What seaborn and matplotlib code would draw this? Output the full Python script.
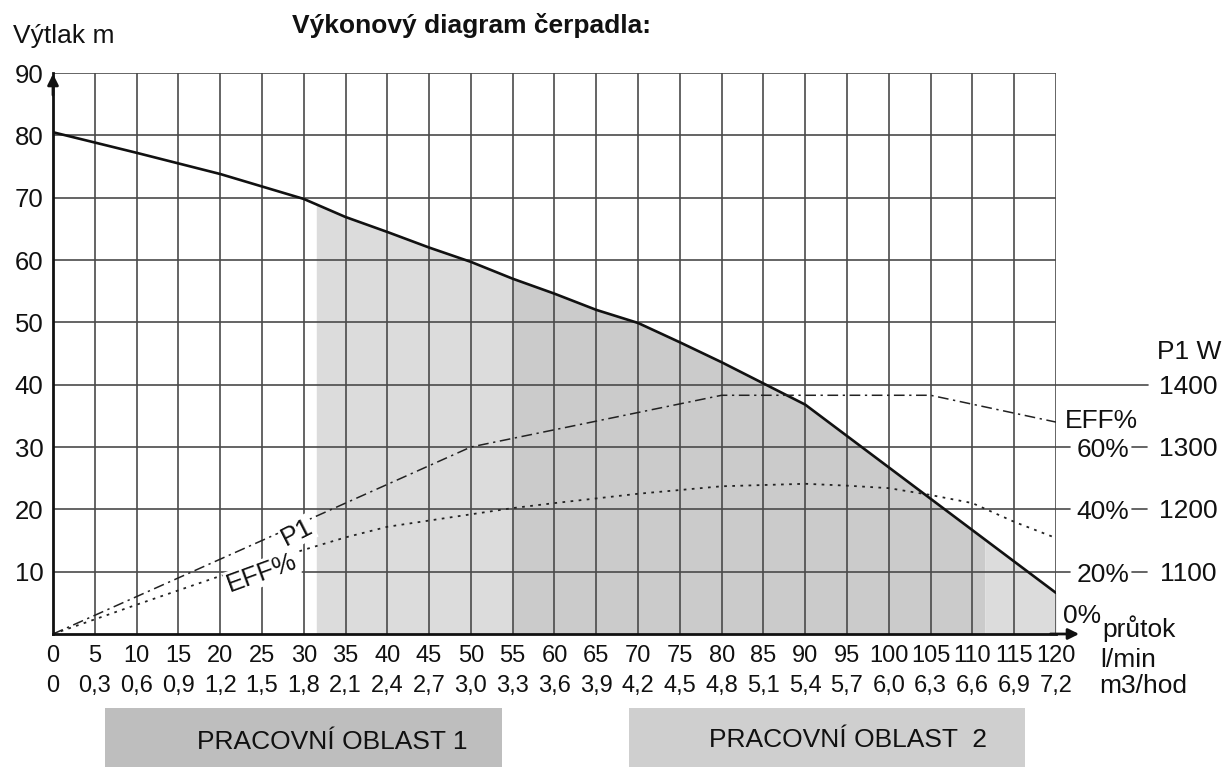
import numpy as np
import pandas as pd
import matplotlib
matplotlib.use("Agg")
import matplotlib.pyplot as plt
from matplotlib.patches import Rectangle
import seaborn as sns

sns.set_theme(style="white")
plt.rcParams["font.family"] = ["Liberation Sans", "DejaVu Sans"]

# head curve, flow l/min -> head m
head_q = [0, 10, 20, 25, 30, 35, 40, 45, 50, 55, 60, 65, 70, 75, 80, 85, 90, 120]
head_h = [80.5, 77.2, 73.8, 71.8, 69.8, 66.9, 64.5, 62.0, 59.7, 57.0, 54.6, 52.0,
          49.9, 46.8, 43.6, 40.2, 36.8, 6.6]

# P1 input power, drawn on the head scale (10 m = 100 W, 40 m = 1400 W)
p1_q = [0, 50, 80, 105, 120]
p1_h = [0, 30.0, 38.3, 38.3, 34.0]

# efficiency, drawn on the head scale (10 m = 20 %)
eff_q = [0, 10, 20, 30, 35, 40, 50, 55, 60, 70, 80, 90, 95, 100, 105, 110, 115, 120]
eff_h = [0, 4.7, 9.3, 13.5, 15.5, 17.2, 19.2, 20.2, 21.0, 22.5, 23.7, 24.1, 23.8,
         23.4, 22.3, 21.0, 18.0, 15.4]

flow_ticks = list(range(0, 121, 5))
m3_labels = ["0", "0,3", "0,6", "0,9", "1,2", "1,5", "1,8", "2,1", "2,4", "2,7",
             "3,0", "3,3", "3,6", "3,9", "4,2", "4,5", "4,8", "5,1", "5,4", "5,7",
             "6,0", "6,3", "6,6", "6,9", "7,2"]
head_ticks = [10, 20, 30, 40, 50, 60, 70, 80, 90]

eff_levels = [10, 20, 30]
eff_labels = ["20%", "40%", "60%"]
p1_levels = [10, 20, 30, 40]
p1_labels = ["1100", "1200", "1300", "1400"]

# shaded working zones under the head curve
zone_edges = [31.5, 55, 111.5, 120]
zone_colors = ["#dcdcdc", "#cbcbcb", "#dcdcdc"]

GRID = "#4a4a4a"
INK = "#111111"
FS = 19

df = pd.concat([
    pd.DataFrame({"q": head_q, "v": head_h, "curve": "H"}),
    pd.DataFrame({"q": p1_q, "v": p1_h, "curve": "P1"}),
    pd.DataFrame({"q": eff_q, "v": eff_h, "curve": "EFF"}),
])

fig = plt.figure(figsize=(12.24, 7.67), dpi=100)
ax = fig.add_axes([0.0433, 0.1734, 0.8194, 0.7314])

# zones
for i in range(len(zone_colors)):
    xs = np.linspace(zone_edges[i], zone_edges[i + 1], 60)
    ax.fill_between(xs, 0, np.interp(xs, head_q, head_h), color=zone_colors[i],
                    lw=0, zorder=1)

# grid
for q in flow_ticks[1:]:
    ax.axvline(q, color=GRID, lw=1.2, zorder=2)
for h in head_ticks:
    ax.axhline(h, color=GRID, lw=1.2, zorder=2)

sns.lineplot(data=df[df.curve == "H"], x="q", y="v", color=INK, lw=1.9,
             ax=ax, zorder=4, sort=False)
sns.lineplot(data=df[df.curve == "P1"], x="q", y="v", color="#222222", lw=1.1,
             ax=ax, zorder=4, sort=False, linestyle=(0, (7, 3, 1.5, 3)))
sns.lineplot(data=df[df.curve == "EFF"], x="q", y="v", color="#222222", lw=1.3,
             ax=ax, zorder=4, sort=False, linestyle=(0, (1.5, 3)))

ax.set_xlim(0, 120)
ax.set_ylim(0, 90)
for s in ["top", "right"]:
    ax.spines[s].set_visible(False)
for s in ["left", "bottom"]:
    ax.spines[s].set_color(INK)
    ax.spines[s].set_linewidth(2)
    ax.spines[s].set_zorder(5)

# axis arrows
ax.annotate("", xy=(0, 90.3), xytext=(0, 86), annotation_clip=False,
            arrowprops=dict(arrowstyle="-|>", color=INK, lw=2, mutation_scale=16))
ax.annotate("", xy=(123.1, 0), xytext=(119, 0), annotation_clip=False,
            arrowprops=dict(arrowstyle="-|>", color=INK, lw=2, mutation_scale=16))

ax.set_xticks(flow_ticks)
ax.set_xticklabels([str(q) for q in flow_ticks], fontsize=17)
ax.set_yticks(head_ticks)
ax.set_yticklabels([str(h) for h in head_ticks], fontsize=18.5)
ax.tick_params(axis="x", length=0, pad=8, colors=INK)
ax.tick_params(axis="y", length=0, pad=7, colors=INK)
ax.set_xlabel("")
ax.set_ylabel("")

xtr = ax.get_xaxis_transform()
for q, lab in zip(flow_ticks, m3_labels):
    ax.text(q, -0.0927, lab, transform=xtr, ha="center", va="center",
            fontsize=17, color=INK)

# curve labels
ax.text(29.2, 16.3, "P1", rotation=27, fontsize=FS, ha="center", va="center",
        color=INK, zorder=6, bbox=dict(facecolor="white", edgecolor="none", pad=1))
ax.text(25.0, 9.8, "EFF%", rotation=20, fontsize=FS, ha="center", va="center",
        color=INK, zorder=6, bbox=dict(facecolor="white", edgecolor="none", pad=1))

# right scales
ax.plot([120, 131.0], [40, 40], color=GRID, lw=1.2, clip_on=False)
for h, lab in zip(eff_levels, eff_labels):
    ax.plot([120, 121.7], [h, h], color=GRID, lw=1.2, clip_on=False)
    ax.plot([129.1, 130.9], [h, h], color=GRID, lw=1.2, clip_on=False)
    ax.text(125.6, h - 0.5, lab, ha="center", va="center", fontsize=FS, color=INK)
for h, lab in zip(p1_levels, p1_labels):
    ax.text(135.8, h - 0.3, lab, ha="center", va="center", fontsize=FS, color=INK)
ax.text(135.9, 45.2, "P1 W", ha="center", va="center", fontsize=FS, color=INK)
ax.text(125.5, 34.2, "EFF%", ha="center", va="center", fontsize=FS, color=INK)
ax.text(120.8, 2.9, "0%", ha="left", va="center", fontsize=FS, color=INK)
ax.text(125.5, -0.5, "průtok", ha="left", va="baseline", fontsize=FS, color=INK)
ax.text(125.3, -0.047, "l/min", ha="left", va="center", transform=xtr,
        fontsize=FS, color=INK)
ax.text(125.2, -0.0927, "m3/hod", ha="left", va="center", transform=xtr,
        fontsize=FS, color=INK)

fig.text(0.0105, 0.944, "Výtlak m", ha="left", va="baseline", fontsize=FS, color=INK)
fig.text(0.2386, 0.957, "Výkonový diagram čerpadla:", ha="left", va="baseline",
         fontsize=FS, fontweight="bold", color=INK)

# working zone boxes
fig.patches.append(Rectangle((0.0858, 0.0), 0.3243, 0.0769, transform=fig.transFigure,
                             facecolor="#bebebe", edgecolor="none"))
fig.patches.append(Rectangle((0.5139, 0.0), 0.3235, 0.0769, transform=fig.transFigure,
                             facecolor="#cfcfcf", edgecolor="none"))
fig.text(0.2712, 0.0326, "PRACOVNÍ OBLAST 1", ha="center", va="center", fontsize=FS,
         color=INK)
fig.text(0.6928, 0.0352, "PRACOVNÍ OBLAST  2", ha="center", va="center", fontsize=FS,
         color=INK)

fig.savefig("out.png", dpi=100)
